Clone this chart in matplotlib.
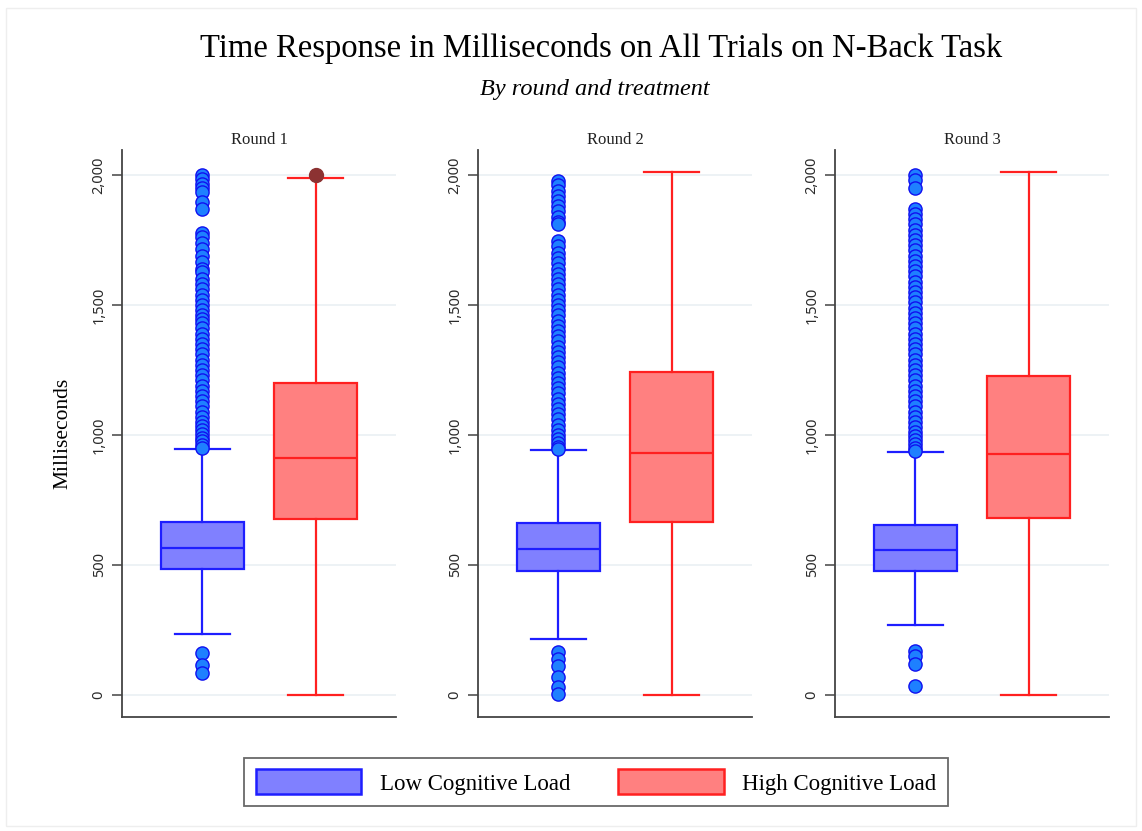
import matplotlib
matplotlib.use("Agg")
import matplotlib.pyplot as plt
from matplotlib.patches import Patch, Rectangle

# ---------------- data ----------------
rounds = ["Round 1", "Round 2", "Round 3"]
groups = ["Low Cognitive Load", "High Cognitive Load"]

low_q1 = [485, 477, 477]
low_med = [565, 562, 558]
low_q3 = [665, 662, 654]
low_whislo = [235, 215, 269]
low_whishi = [946, 942, 935]

high_q1 = [677, 665, 681]
high_med = [912, 931, 927]
high_q3 = [1200, 1242, 1227]
high_whislo = [0, 0, 0]
high_whishi = [1990, 2010, 2010]

low_fliers_r1 = [2000, 1985, 1965, 1950, 1935, 1895, 1870, 1775, 1760, 1740,
                 1715, 1690, 1665, 1640, 1625, 1600, 1580, 1560, 1540, 1520,
                 1500, 1480, 1460, 1445, 1430, 1410, 1390, 1370, 1350, 1330,
                 1310, 1290, 1270, 1250, 1230, 1210, 1190, 1170, 1150, 1130,
                 1110, 1090, 1070, 1050, 1035, 1020, 1005, 990, 975, 960, 950,
                 160, 115, 85]
low_fliers_r2 = [1975, 1960, 1940, 1920, 1900, 1880, 1860, 1840, 1820, 1810,
                 1745, 1725, 1700, 1680, 1660, 1640, 1620, 1600, 1580, 1560,
                 1540, 1520, 1500, 1480, 1460, 1440, 1420, 1400, 1380, 1360,
                 1340, 1320, 1300, 1280, 1260, 1240, 1220, 1200, 1180, 1160,
                 1140, 1120, 1100, 1080, 1060, 1040, 1020, 1000, 985, 970, 955, 945,
                 165, 140, 110, 70, 30, 5]
low_fliers_r3 = [2000, 1980, 1950, 1870, 1850, 1830, 1810, 1790, 1770, 1750,
                 1730, 1710, 1690, 1670, 1650, 1630, 1610, 1590, 1570, 1550,
                 1530, 1510, 1490, 1470, 1450, 1430, 1410, 1390, 1370, 1350,
                 1330, 1310, 1290, 1270, 1250, 1230, 1210, 1190, 1170, 1150,
                 1130, 1110, 1090, 1070, 1050, 1030, 1010, 995, 980, 965, 950, 940,
                 170, 150, 120, 35]
low_fliers = [low_fliers_r1, low_fliers_r2, low_fliers_r3]
high_fliers = [[2000], [], []]

yticks = [0, 500, 1000, 1500, 2000]
ytick_labels = ["0", "500", "1,000", "1,500", "2,000"]

# ---------------- style ----------------
SERIF = ["Liberation Serif", "DejaVu Serif"]
plt.rcParams["font.family"] = SERIF

low_face, low_edge = "#8080FF", "#1E1EFF"
high_face, high_edge = "#FF8080", "#FF2020"
flier_low_face, flier_low_edge = "#1E80FF", "#1010F0"
flier_high = "#8C3232"

W, H = 1142, 831
fig = plt.figure(figsize=(W / 100, H / 100), dpi=100)
fig.patch.set_facecolor("white")

lefts = [122, 478, 835]
ax_w = 274
ax_top, ax_bot = 150, 717

for i in range(3):
    ax = fig.add_axes([lefts[i] / W, 1 - ax_bot / H, ax_w / W, (ax_bot - ax_top) / H])
    stats = [
        dict(med=low_med[i], q1=low_q1[i], q3=low_q3[i], whislo=low_whislo[i],
             whishi=low_whishi[i], fliers=low_fliers[i]),
        dict(med=high_med[i], q1=high_q1[i], q3=high_q3[i], whislo=high_whislo[i],
             whishi=high_whishi[i], fliers=high_fliers[i]),
    ]
    for j, (st, fc, ec, ffc, fec) in enumerate([
            (stats[0], low_face, low_edge, flier_low_face, flier_low_edge),
            (stats[1], high_face, high_edge, flier_high, flier_high)]):
        ax.bxp([st], positions=[j + 1], widths=0.73, patch_artist=True,
               showfliers=True, shownotches=False,
               boxprops=dict(facecolor=fc, edgecolor=ec, linewidth=1.6),
               medianprops=dict(color=ec, linewidth=1.6),
               whiskerprops=dict(color=ec, linewidth=1.6),
               capprops=dict(color=ec, linewidth=1.6),
               capwidths=0.48,
               flierprops=dict(marker="o", markerfacecolor=ffc, markeredgecolor=fec,
                               markersize=9.5 if j == 0 else 10, markeredgewidth=1.0,
                               linestyle="none"),
               zorder=3)
    ax.set_xlim(0.292, 2.708)
    ax.set_ylim(-85, 2096)
    ax.set_yticks(yticks)
    ax.set_yticklabels(ytick_labels, rotation=90, va="center",
                       family=["Noto Sans", "DejaVu Sans"], fontsize=10.5, color="#2A2A2A")
    ax.set_xticks([])
    ax.grid(axis="y", color="#EAF0F3", linewidth=1.2, zorder=0)
    ax.set_axisbelow(True)
    for s in ["top", "right"]:
        ax.spines[s].set_visible(False)
    for s in ["left", "bottom"]:
        ax.spines[s].set_color("#444444")
        ax.spines[s].set_linewidth(1.3)
    ax.tick_params(axis="y", length=7, width=1.1, color="#444444", pad=4)
    ax.set_title(rounds[i], fontsize=12, color="#222222", pad=4)
    if i == 0:
        ax.set_ylabel("Milliseconds", fontsize=15.5, labelpad=14)

fig.text(601 / W, 1 - 49 / H, "Time Response in Milliseconds on All Trials on N-Back Task",
         ha="center", va="center", fontsize=23.5)
fig.text(595 / W, 1 - 89 / H, "By round and treatment", ha="center", va="center",
         fontsize=17.5, style="italic")

handles = [Patch(facecolor=low_face, edgecolor=low_edge, linewidth=1.8),
           Patch(facecolor=high_face, edgecolor=high_edge, linewidth=1.8)]
leg = fig.legend(handles, groups, loc="center", bbox_to_anchor=(596 / W, 1 - 782 / H),
                 ncol=2, fontsize=16.5, frameon=True, fancybox=False,
                 handlelength=4.6, handleheight=1.3, handletextpad=0.8,
                 columnspacing=2.1, borderpad=0.5, borderaxespad=0)
leg.get_frame().set_edgecolor("#444444")
leg.get_frame().set_linewidth(1.3)

# faint outer frame of the original graph region
fig.patches.append(Rectangle((6 / W, 1 - 826 / H), 1130 / W, 818 / H,
                             transform=fig.transFigure, fill=False,
                             edgecolor="#EEEEEE", linewidth=1.0))

fig.savefig("out.png", dpi=100)
